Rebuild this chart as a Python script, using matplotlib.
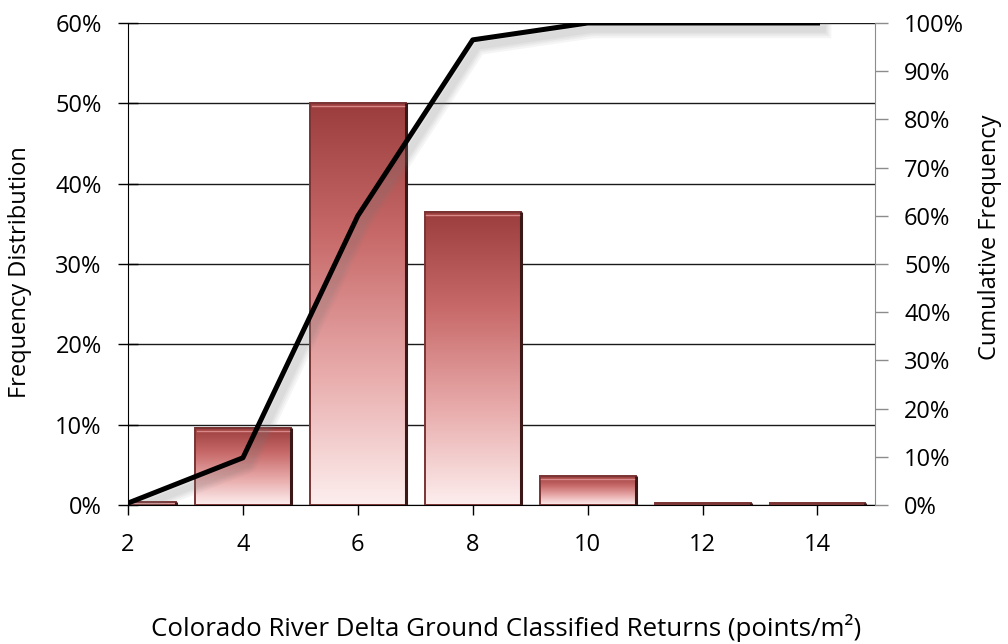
import matplotlib
matplotlib.use("Agg")
import matplotlib.pyplot as plt
import matplotlib.patheffects as pe
from matplotlib.colors import LinearSegmentedColormap
from matplotlib.patches import Rectangle
from matplotlib.ticker import PercentFormatter, MultipleLocator
import numpy as np

plt.rcParams.update({"font.family": ["Open Sans", "DejaVu Sans"], "font.size": 17})

# ground returns per m² (bin centres), share of cells, running total
returns = [2, 4, 6, 8, 10, 12, 14]
freq = [0.4, 9.6, 50.0, 36.5, 3.6, 0.2, 0.2]
cumulative = [0.4, 9.8, 60.0, 96.5, 100.0, 100.0, 100.0]

BAR_W = 1.67
bar_cmap = LinearSegmentedColormap.from_list(
    "bar", ["#FDEEEE", "#E8AAAA", "#C86A6A", "#9C3D3D"])

fig = plt.figure(figsize=(10.08, 6.44), dpi=100)
ax = fig.add_axes([0.127, 0.2158, 0.741, 0.7485])

ramp = np.linspace(0, 1, 256).reshape(-1, 1)
for x, h in zip(returns, freq):
    x0 = x - BAR_W / 2
    ax.imshow(ramp, extent=(x0, x0 + BAR_W, 0, h), origin="lower", cmap=bar_cmap,
              aspect="auto", interpolation="bicubic", zorder=2)
    ax.add_patch(Rectangle((x0, 0), BAR_W, h, fill=False, ec="#7A3434", lw=1.4, zorder=3))
    # bevel: dark right side, light rim under the top edge
    ax.plot([x0 + BAR_W, x0 + BAR_W], [0, h], color="#3A1818", lw=2.2, zorder=3,
            solid_capstyle="butt")
    if h > 1:
        ax.plot([x0 + 0.03, x0 + BAR_W - 0.03], [h - 0.35, h - 0.35], color="#D88888",
                lw=1.0, zorder=3)

ax.set_xlim(2, 15)
ax.set_ylim(0, 60)
ax.set_xticks(returns)
ax.yaxis.set_major_locator(MultipleLocator(10))
ax.yaxis.set_major_formatter(PercentFormatter(decimals=0))
ax.set_axisbelow(True)
ax.yaxis.grid(True, color="#1a1a1a", lw=1.0)
for s in ("top", "right"):
    ax.spines[s].set_visible(False)
ax.spines["left"].set_color("black")
ax.spines["bottom"].set_color("black")
ax.tick_params(axis="y", direction="inout", length=14, width=1, pad=12)
ax.tick_params(axis="x", direction="out", length=7, width=1, pad=13)

ax2 = ax.twinx()
ax2.set_ylim(0, 100)
ax2.yaxis.set_major_locator(MultipleLocator(10))
ax2.yaxis.set_major_formatter(PercentFormatter(decimals=0))
for s in ("top", "left", "bottom"):
    ax2.spines[s].set_visible(False)
ax2.spines["right"].set_color("#8C8C8C")
ax2.tick_params(axis="y", direction="out", length=9, width=1, color="#8C8C8C", pad=12)

shadow = [pe.SimpleLineShadow(offset=(3.5, -4.5), shadow_color="#7A7A7A", alpha=0.07,
                              linewidth=lw) for lw in (13, 10, 7.5, 5)]
ax2.plot(returns, cumulative, color="black", lw=3.6, zorder=5,
         path_effects=shadow + [pe.Normal()])

fig.text(0.02, 0.578, "Frequency Distribution", rotation=90, ha="center", va="center",
         fontsize=17)
fig.text(0.982, 0.632, "Cumulative Frequency", rotation=90, ha="center", va="center",
         fontsize=17)
fig.text(0.502, 0.025, "Colorado River Delta Ground Classified Returns (points/m²)",
         ha="center", va="center", fontsize=18.6)

fig.savefig("out.png", dpi=100)
